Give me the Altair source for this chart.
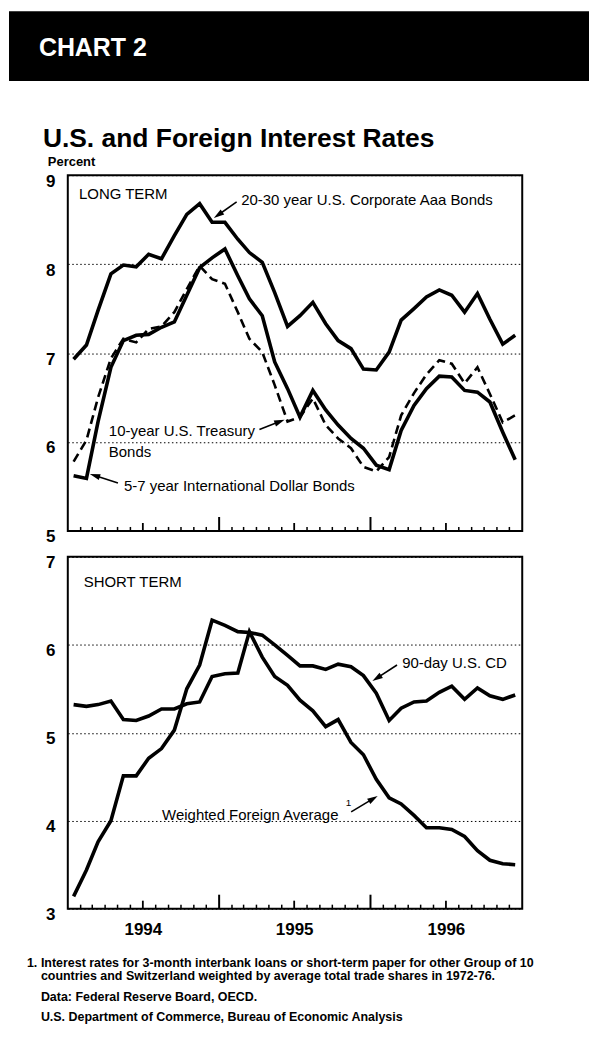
import math
import datetime
import altair as alt
import pandas as pd

# ------------------------------------------------------------------ data
months = [f"{y}-{m:02d}" for y in (1994, 1995, 1996) for m in range(1, 13)]

corporate_aaa = [6.93, 7.09, 7.48, 7.89, 7.99, 7.97, 8.11, 8.06, 8.32, 8.56, 8.68, 8.47,
                 8.47, 8.28, 8.13, 8.02, 7.68, 7.30, 7.42, 7.57, 7.33, 7.14, 7.05, 6.82,
                 6.81, 7.01, 7.37, 7.50, 7.63, 7.71, 7.65, 7.46, 7.67, 7.38, 7.10, 7.20]
treasury_10yr = [5.78, 6.02, 6.50, 6.94, 7.16, 7.12, 7.27, 7.30, 7.46, 7.72, 7.98, 7.83,
                 7.78, 7.46, 7.16, 7.01, 6.64, 6.23, 6.28, 6.49, 6.19, 6.04, 5.93, 5.72,
                 5.67, 5.83, 6.30, 6.55, 6.76, 6.92, 6.88, 6.66, 6.84, 6.54, 6.22, 6.30]
intl_dollar = [5.62, 5.59, 6.23, 6.84, 7.14, 7.20, 7.21, 7.29, 7.35, 7.65, 7.96, 8.07,
               8.17, 7.87, 7.61, 7.42, 6.90, 6.60, 6.28, 6.58, 6.36, 6.19, 6.04, 5.93,
               5.74, 5.69, 6.13, 6.41, 6.60, 6.74, 6.73, 6.58, 6.56, 6.45, 6.11, 5.80]
cd_90day = [3.14, 3.44, 3.76, 4.00, 4.51, 4.51, 4.71, 4.82, 5.03, 5.50, 5.77, 6.28,
            6.22, 6.15, 6.14, 6.11, 6.00, 5.88, 5.76, 5.76, 5.72, 5.78, 5.75, 5.65,
            5.45, 5.14, 5.28, 5.35, 5.36, 5.46, 5.53, 5.38, 5.51, 5.42, 5.38, 5.43]
foreign_avg = [5.32, 5.30, 5.32, 5.36, 5.15, 5.14, 5.19, 5.27, 5.27, 5.33, 5.35, 5.64,
               5.67, 5.68, 6.15, 5.86, 5.64, 5.54, 5.37, 5.25, 5.07, 5.15, 4.89, 4.75,
               4.47, 4.26, 4.19, 4.06, 3.92, 3.92, 3.90, 3.82, 3.66, 3.55, 3.51, 3.50]

long_ticks = [5, 6, 7, 8, 9]
short_ticks = [3, 4, 5, 6, 7]
year_labels = ["1994", "1995", "1996"]

chart_label = "CHART 2"
title_text = "U.S. and Foreign Interest Rates"
unit_text = "Percent"
footnote = ["1.",
            "Interest rates for 3-month interbank loans or short-term paper for other Group of 10",
            "countries and Switzerland weighted by average total trade shares in 1972-76."]
sources = ["Data: Federal Reserve Board, OECD.",
           "U.S. Department of Commerce, Bureau of Economic Analysis"]

# ------------------------------------------------------------------ layout / style
FONT = "Liberation Sans, Arial, Helvetica, sans-serif"
W, H1, H2, SP = 456, 357, 353, 26
OX, OY1 = 67, 172.5
OY2 = OY1 + H1 + SP
PPM = W / 36.0
PPU1, PPU2 = H1 / 4.0, H2 / 4.0

dates = [f"{m}-15" for m in months]


def mdate(m):
    f = math.floor(m)
    yi, k = divmod(int(f), 12)
    start = datetime.datetime(1994 + yi, k + 1, 1)
    ny, nk = divmod(k + 1, 12)
    end = datetime.datetime(1994 + yi + ny, nk + 1, 1)
    return (start + (end - start) * (m - f)).strftime("%Y-%m-%dT%H:%M:%SZ")


def arrow(sm, sv, tm, tv, ppu, back=5.0):
    dx = (tm - sm) * PPM
    dy = -(tv - sv) * ppu
    L = math.hypot(dx, dy)
    ux, uy = dx / L, dy / L
    cm = tm - back * ux / PPM
    cv = tv + back * uy / ppu
    ang = math.degrees(math.atan2(ux, -uy)) % 360
    return dict(x=mdate(sm), y=sv, x2=mdate(cm), y2=cv, angle=ang)


x_scale = alt.Scale(type="utc", domain=[alt.DateTime(year=1994, month=1, date=1, utc=True),
                                        alt.DateTime(year=1997, month=1, date=1, utc=True)])
y1_scale = alt.Scale(domain=[5, 9], nice=False, zero=False)
y2_scale = alt.Scale(domain=[3, 7], nice=False, zero=False)


def y_axis(values):
    return alt.Axis(values=values, grid=True, gridColor="black", gridDash=[1.5, 2.5],
                    gridWidth=1, domain=False, ticks=False, labelFont=FONT,
                    labelFontSize=17, labelFontWeight="bold", labelColor="black",
                    labelPadding=13, labelOffset=6, title=None)


x_axis2 = alt.Axis(values=[alt.DateTime(year=int(y), month=7, date=1, utc=True) for y in year_labels],
                   format="%Y", ticks=False, domain=False, grid=False, labelFont=FONT,
                   labelFontSize=17, labelFontWeight="bold", labelColor="black",
                   labelPadding=13, labelFlush=False, title=None)

# ------------------------------------------------------------------ tables
long_df = pd.DataFrame({
    "date": dates * 3,
    "value": corporate_aaa + treasury_10yr + intl_dollar,
    "series": ["20-30 year U.S. Corporate Aaa Bonds"] * 36 + ["10-year U.S. Treasury Bonds"] * 36
              + ["5-7 year International Dollar Bonds"] * 36,
})
short_df = pd.DataFrame({
    "date": dates * 2,
    "value": cd_90day + foreign_avg,
    "series": ["90-day U.S. CD"] * 36 + ["Weighted Foreign Average"] * 36,
})

tick_dates = [f"{m}-01" for m in months[1:]]
tick_df = pd.DataFrame({
    "date": tick_dates,
    "kind": ["year" if d[5:7] == "01" else ("mid" if d[5:7] == "07" else "minor") for d in tick_dates],
})

long_labels = pd.DataFrame([
    dict(text="LONG TERM", x=mdate(0.87), y=8.79),
    dict(text="20-30 year U.S. Corporate Aaa Bonds", x=mdate(13.79), y=8.72),
    dict(text="10-year U.S. Treasury", x=mdate(3.3), y=6.12),
    dict(text="Bonds", x=mdate(3.3), y=5.89),
    dict(text="5-7 year International Dollar Bonds", x=mdate(4.5), y=5.50),
])
long_arrows = pd.DataFrame([
    arrow(13.40, 8.70, 11.6, 8.52, PPU1),
    arrow(15.24, 6.14, 17.21, 6.25, PPU1),
    arrow(4.03, 5.54, 1.82, 5.64, PPU1),
])

short_labels = pd.DataFrame([
    dict(text="SHORT TERM", x=mdate(1.26), y=6.71),
    dict(text="90-day U.S. CD", x=mdate(26.53), y=5.79),
    dict(text="Weighted Foreign Average", x=mdate(7.5), y=4.07),
])
short_sup = pd.DataFrame([dict(text="1", x=mdate(22.05), y=4.20)])
short_arrows = pd.DataFrame([
    arrow(26.13, 5.77, 24.16, 5.59, PPU2),
    arrow(22.48, 4.10, 24.55, 4.28, PPU2),
])

HEAD = "M0,-1L0.6,1L-0.6,1Z"


def panel(df, yscale, yvals, dashed, labels, arrows, H, xaxis, sup=None):
    yax = y_axis(yvals)
    X = lambda f="date": alt.X(f"{f}:T", scale=x_scale, axis=xaxis)
    Y = lambda f="value": alt.Y(f"{f}:Q", scale=yscale, axis=yax)
    layers = [
        alt.Chart(df).transform_filter(~alt.FieldOneOfPredicate(field="series", oneOf=dashed or ["-"]))
        .mark_line(color="black", strokeWidth=3.6, strokeJoin="miter", strokeMiterLimit=4)
        .encode(x=X(), y=Y(), detail="series:N")
    ]
    if dashed:
        layers.append(alt.Chart(df).transform_filter(alt.FieldOneOfPredicate(field="series", oneOf=dashed))
                      .mark_line(color="black", strokeWidth=2.6, strokeDash=[9, 5])
                      .encode(x=X(), y=Y()))
    for kind, ln, sw in (("minor", 4, 1.5), ("mid", 8, 1.8), ("year", 14, 2)):
        layers.append(alt.Chart(tick_df).transform_filter(alt.datum.kind == kind)
                      .mark_rule(color="black", strokeWidth=sw)
                      .encode(x=X(), y=alt.value(H), y2=alt.value(H - ln)))
    layers.append(alt.Chart(labels).mark_text(align="left", baseline="middle", font=FONT,
                                              fontSize=15, color="black")
                  .encode(x=X("x"), y=Y("y"), text="text:N"))
    if sup is not None:
        layers.append(alt.Chart(sup).mark_text(align="left", baseline="middle", font=FONT,
                                               fontSize=10, color="black")
                      .encode(x=X("x"), y=Y("y"), text="text:N"))
    layers.append(alt.Chart(arrows).mark_rule(color="black", strokeWidth=1.6)
                  .encode(x=X("x"), x2="x2:T", y=Y("y"), y2="y2:Q"))
    layers.append(alt.Chart(arrows).mark_point(shape=HEAD, filled=True, size=110, color="black",
                                               opacity=1, strokeWidth=0)
                  .encode(x=X("x2"), y=Y("y2"), angle=alt.Angle("angle:Q", scale=None)))
    return layers


one = alt.InlineData(values=[{}])


def ptext(text, x, y, **kw):
    return alt.Chart(one).mark_text(text=text, **kw).encode(x=alt.value(x), y=alt.value(y))


# header (pixel positions relative to the top panel)
header = [
    alt.Chart(one).mark_rect(color="black").encode(
        x=alt.value(8 - OX), x2=alt.value(590 - OX), y=alt.value(8 - OY1), y2=alt.value(78 - OY1)),
    ptext(chart_label, 38 - OX, 45 - OY1, align="left", baseline="middle", font=FONT,
          fontSize=25, fontWeight="bold", color="white"),
    ptext(title_text, 42 - OX, 144 - OY1, align="left", baseline="alphabetic", font=FONT,
          fontSize=26.5, fontWeight="bold", color="black"),
    ptext(unit_text, 47 - OX, 159 - OY1, align="left", baseline="middle", font=FONT,
          fontSize=13, fontWeight="bold", color="black"),
]

foot_kw = dict(align="left", baseline="middle", font=FONT, fontSize=12.5, fontWeight="bold",
               color="black")
footer = [
    ptext(footnote[0], 26 - OX, 963 - OY2, **foot_kw),
    ptext(footnote[1], 40 - OX, 963 - OY2, **foot_kw),
    ptext(footnote[2], 40 - OX, 976 - OY2, **foot_kw),
    ptext(sources[0], 40 - OX, 997 - OY2, **foot_kw),
    ptext(sources[1], 40 - OX, 1017 - OY2, **foot_kw),
]

top = alt.layer(*header, *panel(long_df, y1_scale, long_ticks, ["10-year U.S. Treasury Bonds"],
                                long_labels, long_arrows, H1, None)
                ).properties(width=W, height=H1)
bottom = alt.layer(*panel(short_df, y2_scale, short_ticks, [], short_labels,
                          short_arrows, H2, x_axis2, sup=short_sup), *footer
                   ).properties(width=W, height=H2)

chart = (alt.vconcat(top, bottom, spacing=SP, bounds="flush")
         .properties(padding=0, background="white")
         .configure_view(stroke="black", strokeWidth=2))

chart.save("out.html", embed_options={"renderer": "svg", "actions": False})
